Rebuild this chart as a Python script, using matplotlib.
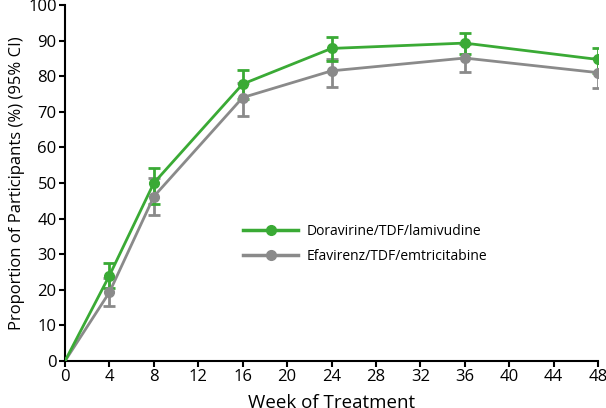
import numpy as np
import matplotlib.pyplot as plt

plt.rcParams['font.family'] = ['Open Sans', 'DejaVu Sans']

weeks = [0, 4, 8, 16, 24, 36, 48]
dor = [0, 24.0, 50.0, 77.8, 87.8, 89.3, 84.7]
dor_lo = [0, 20.6, 44.0, 73.6, 84.3, 86.3, 81.0]
dor_hi = [0, 27.5, 54.3, 81.8, 91.0, 92.0, 88.0]
efv = [0, 19.3, 46.2, 74.0, 81.5, 85.1, 81.0]
efv_lo = [0, 15.5, 41.1, 68.8, 76.9, 81.3, 76.8]
efv_hi = [0, 23.2, 51.4, 78.2, 84.9, 89.0, 85.2]

green = '#3aaa35'
gray = '#8a8a8a'

fig = plt.figure(figsize=(6.06, 4.08), dpi=100)
ax = fig.add_axes([65 / 606, 47 / 408, 533 / 606, 356 / 408])

for y, lo, hi, c in [(efv, efv_lo, efv_hi, gray), (dor, dor_lo, dor_hi, green)]:
    y = np.array(y)
    err = [y - np.array(lo), np.array(hi) - y]
    ax.errorbar(weeks[1:], y[1:], yerr=[err[0][1:], err[1][1:]], fmt='none',
                ecolor=c, elinewidth=2, capsize=4, capthick=2, zorder=2)
    ax.plot(weeks, y, color=c, lw=2, zorder=3)
    ax.plot(weeks[1:], y[1:], 'o', color=c, ms=7, zorder=4)

h1, = ax.plot([], [], '-o', color=green, lw=2.5, ms=7)
h2, = ax.plot([], [], '-o', color=gray, lw=2.5, ms=7)
ax.legend([h1, h2], ['Doravirine/TDF/lamivudine', 'Efavirenz/TDF/emtricitabine'],
          loc='upper left', bbox_to_anchor=(0.31, 0.42), frameon=False,
          fontsize=10, handlelength=4.0, labelspacing=0.7, handletextpad=0.6)

ax.set_xlim(0, 48)
ax.set_ylim(0, 100)
ax.set_xticks(range(0, 49, 4))
ax.set_yticks(range(0, 101, 10))
ax.spines['top'].set_visible(False)
ax.spines['right'].set_visible(False)
ax.spines['left'].set_linewidth(1.5)
ax.spines['bottom'].set_linewidth(1.5)
ax.tick_params(labelsize=12, width=1.5, length=4, pad=2)
ax.set_xlabel('Week of Treatment', fontsize=13.5, labelpad=6)
ax.set_ylabel('Proportion of Participants (%) (95% CI)', fontsize=12, labelpad=2)

fig.savefig('out.png', dpi=100)
